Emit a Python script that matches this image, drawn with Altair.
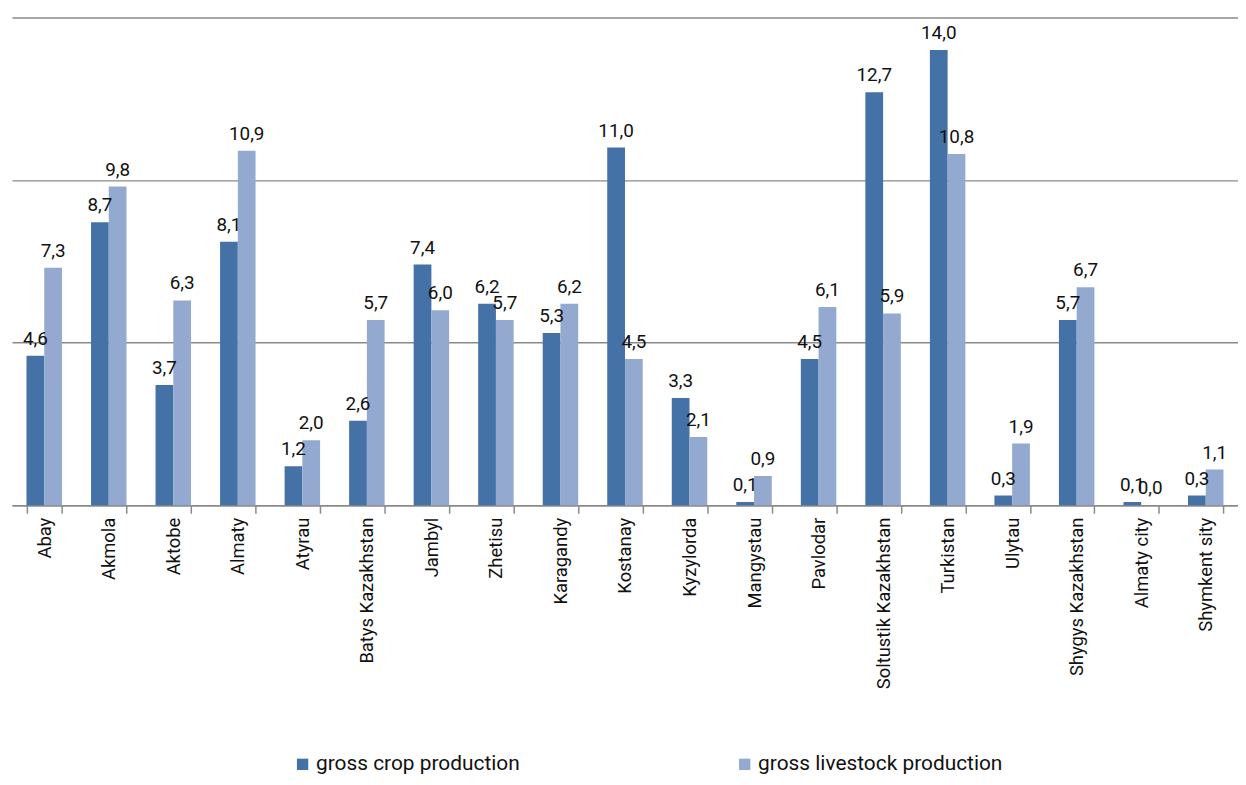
import altair as alt
import pandas as pd

regions = ["Abay", "Akmola", "Aktobe", "Almaty", "Atyrau", "Batys Kazakhstan", "Jambyl",
           "Zhetisu", "Karagandy", "Kostanay", "Kyzylorda", "Mangystau", "Pavlodar",
           "Soltustik Kazakhstan", "Turkistan", "Ulytau", "Shygys Kazakhstan",
           "Almaty city", "Shymkent sity"]
crop = [4.6, 8.7, 3.7, 8.1, 1.2, 2.6, 7.4, 6.2, 5.3, 11.0, 3.3, 0.1, 4.5, 12.7, 14.0, 0.3, 5.7, 0.1, 0.3]
livestock = [7.3, 9.8, 6.3, 10.9, 2.0, 5.7, 6.0, 5.7, 6.2, 4.5, 2.1, 0.9, 6.1, 5.9, 10.8, 1.9, 6.7, 0.0, 1.1]
series = ["gross crop production", "gross livestock production"]
colors = ["#4472A6", "#94A9D0"]

rows = []
for i, r in enumerate(regions):
    for s, vals in zip(series, [crop, livestock]):
        v = vals[i]
        rows.append({"region": r, "series": s, "value": v,
                     "label": f"{v:.1f}".replace(".", ",")})
df = pd.DataFrame(rows)

x = alt.X("region:N", sort=regions, title=None,
          scale=alt.Scale(paddingInner=0.45, paddingOuter=0.225),
          axis=alt.Axis(labelAngle=-90, labelFont="Roboto", labelFontSize=18.5,
                        labelColor="#111111", labelPadding=4, tickBand="extent",
                        tickSize=8, tickColor="#8a8a8a", tickWidth=1.5,
                        domainColor="#8a8a8a", domainWidth=1.5, grid=False,
                        labelLimit=400))
xo = alt.XOffset("series:N", sort=series, scale=alt.Scale(paddingInner=0, paddingOuter=0))

base = alt.Chart(df)
bars = base.mark_bar().encode(
    x=x, xOffset=xo,
    y=alt.Y("value:Q", title=None,
            scale=alt.Scale(domain=[0, 15], nice=False),
            axis=alt.Axis(values=[0, 5, 10, 15], labels=False, ticks=False, domain=False,
                          grid=True, gridColor="#8a8a8a", gridWidth=1.5)),
    color=alt.Color("series:N", sort=series, title=None,
                    scale=alt.Scale(domain=series, range=colors),
                    legend=alt.Legend(orient="none", legendX=282, legendY=741,
                                      direction="horizontal", columns=2,
                                      columnPadding=215, symbolType="square",
                                      symbolSize=130, symbolStrokeWidth=0,
                                      labelFont="Roboto", labelFontSize=21,
                                      labelColor="#111111", labelOffset=3,
                                      padding=0, labelLimit=400)),
)
text = base.mark_text(baseline="bottom", dy=-7, font="Roboto", fontSize=19,
                      color="#111111").encode(
    x=x, xOffset=xo, y="value:Q", text="label:N")

chart = (bars + text).properties(
    width=1234, height=491,
    autosize=alt.AutoSizeParams(type="none"),
    padding={"left": 4, "top": 7, "right": 0, "bottom": 271},
).configure_view(stroke=None)

chart.save("out.html", embed_options={"renderer": "svg", "actions": False})
